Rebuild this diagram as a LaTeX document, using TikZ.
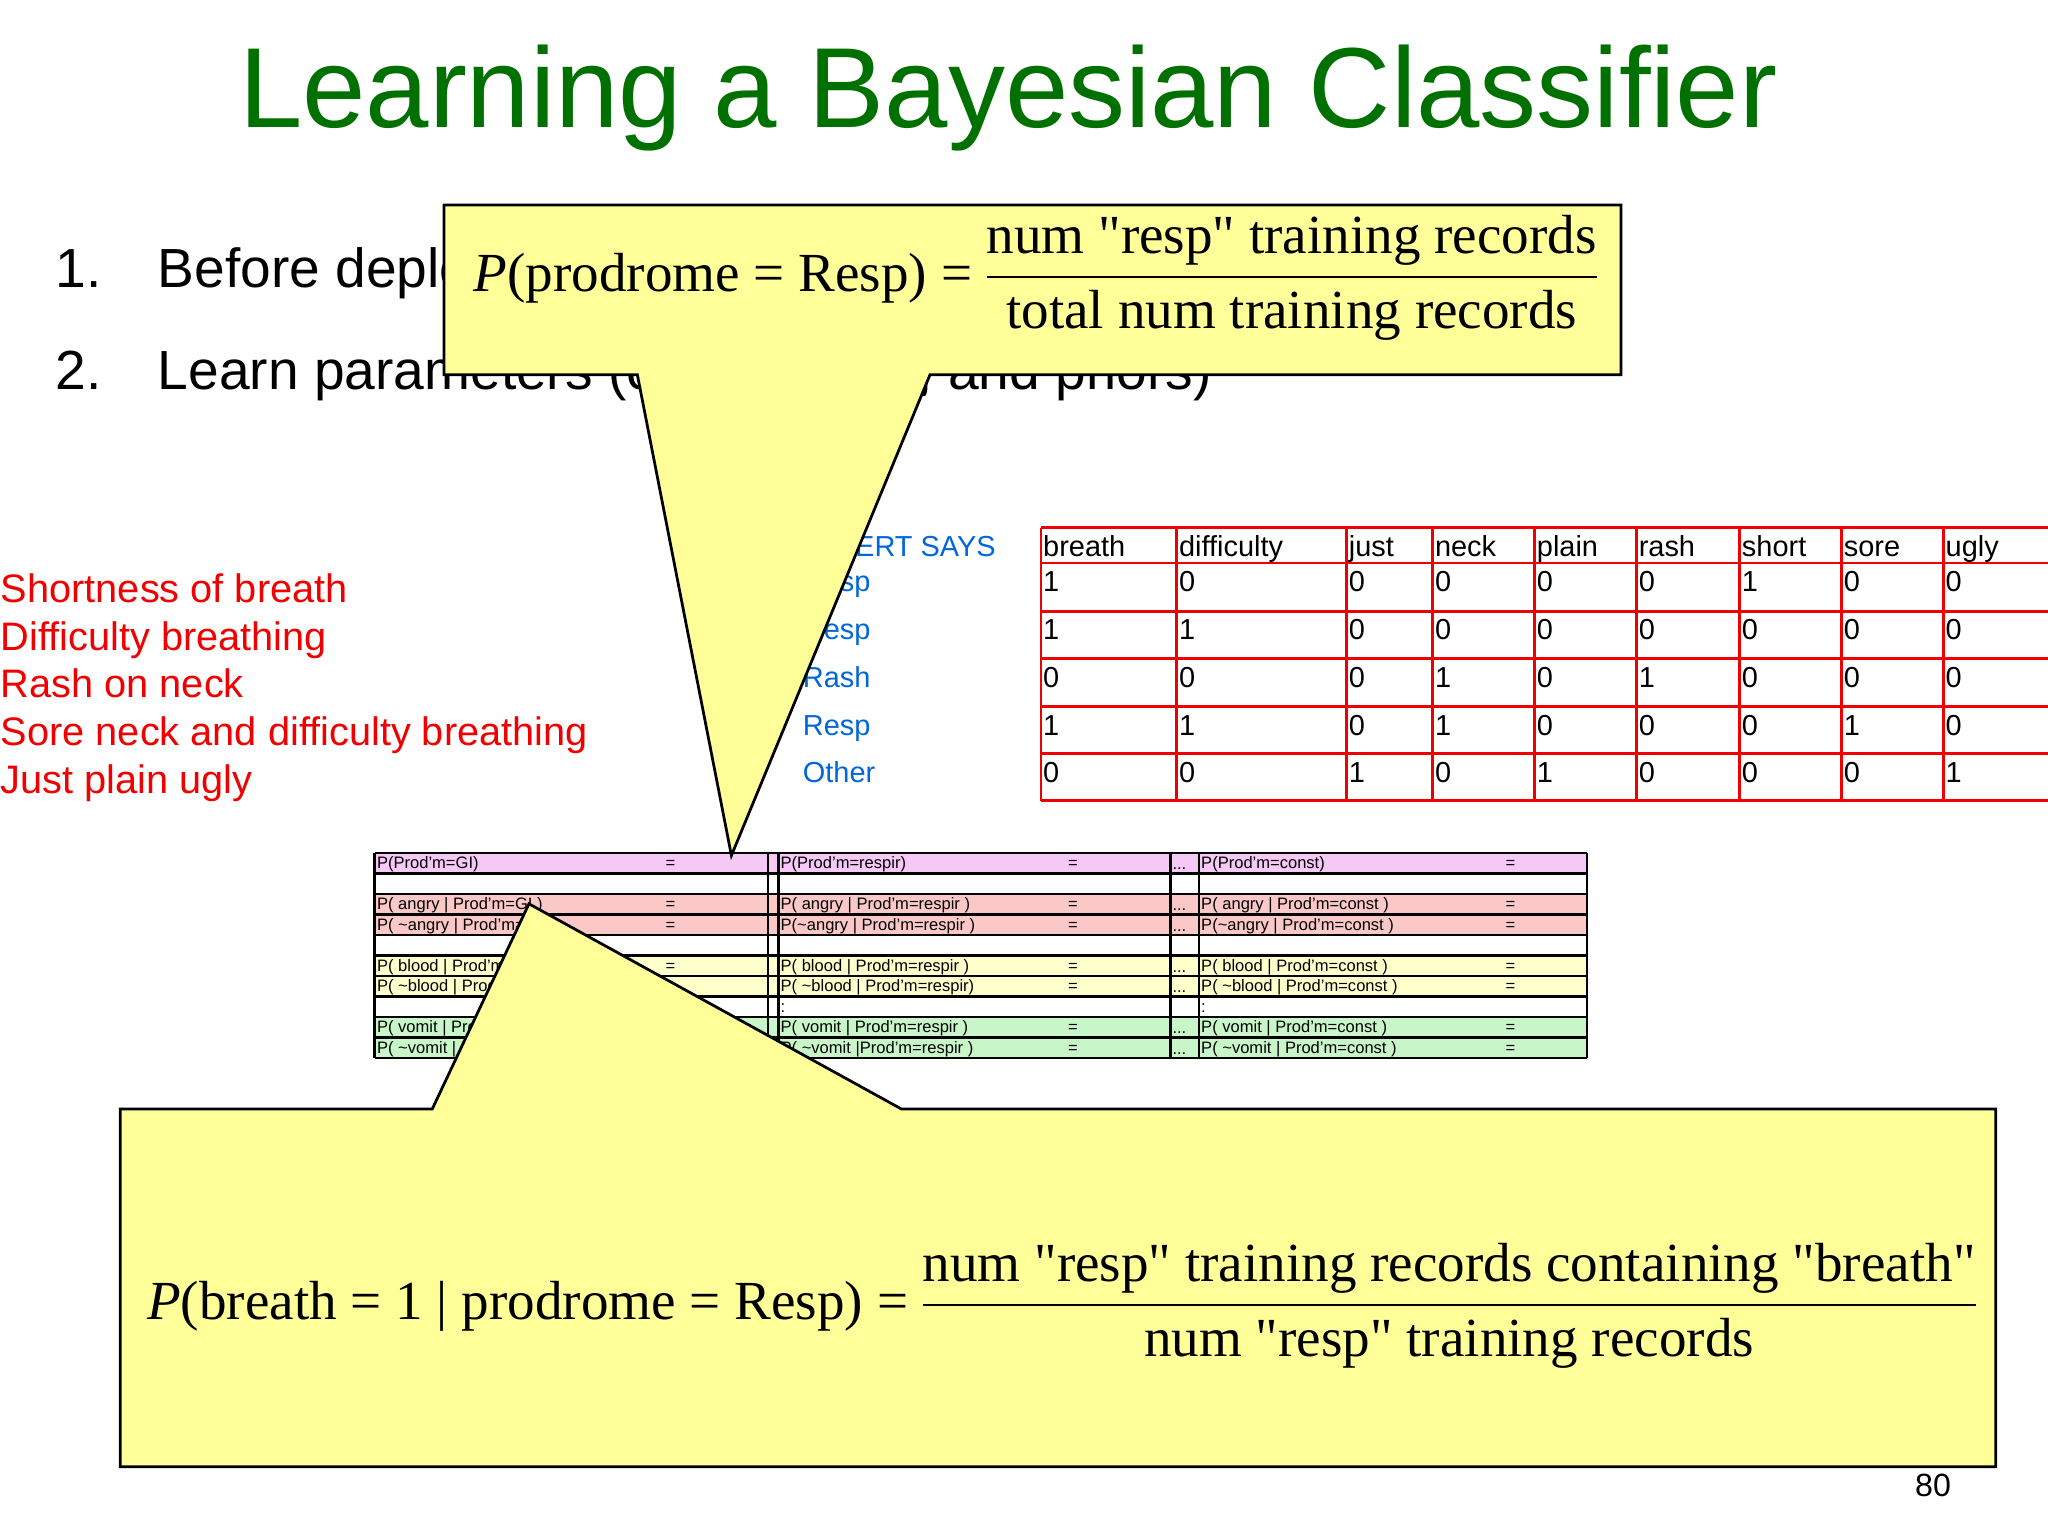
\documentclass[tikz,border=0pt]{standalone}
\usepackage{fontspec}
\setmainfont{Liberation Sans}
\setsansfont{Liberation Sans}
\newfontfamily\tnr{Liberation Serif}
\definecolor{titlegreen}{RGB}{0,112,0}
\definecolor{callout}{RGB}{255,255,153}
\definecolor{rowvio}{RGB}{246,200,246}
\definecolor{rowred}{RGB}{251,200,200}
\definecolor{rowyel}{RGB}{255,255,204}
\definecolor{rowgrn}{RGB}{200,246,200}
\definecolor{bluetxt}{RGB}{0,102,221}
\definecolor{redtxt}{RGB}{240,0,0}
\tikzset{
  sm/.style={anchor=base west,inner sep=0pt,font=\fontsize{3.6pt}{4pt}\selectfont},
  redlab/.style={anchor=base west,inner sep=0pt,text=redtxt,font=\fontsize{8.65pt}{10pt}\selectfont},
  bluelab/.style={anchor=base west,inner sep=0pt,text=bluetxt,font=\fontsize{6.3pt}{8pt}\selectfont},
  cell/.style={anchor=base west,inner sep=0pt,font=\fontsize{6.3pt}{8pt}\selectfont},
  callbox/.style={fill=callout,draw=black,line width=0.6pt,line join=miter},
  frm/.style={anchor=west,inner sep=0pt,font=\tnr\fontsize{12pt}{14pt}\selectfont}
}
\newcommand{\tx}[1]{\mbox{\tnr #1}}
\begin{document}
\begin{tikzpicture}[x=0.01cm,y=-0.01cm]
\useasboundingbox (0,0) rectangle (1568,1176);
% title
\node[text=titlegreen,font=\fontsize{24.8pt}{30pt}\selectfont,inner sep=0pt] (title) at (772,75) {Learning a Bayesian Classifier};
% list
\node[anchor=base west,inner sep=0pt,font=\fontsize{12pt}{14pt}\selectfont] (l1) at (42,220) {1.\hspace{0.43cm}Before deployment, decide the structure};
\node[anchor=base west,inner sep=0pt,font=\fontsize{12pt}{14pt}\selectfont] (l2) at (42,298) {2.\hspace{0.43cm}Learn parameters (conditionals, and priors)};
% red list
\foreach \t [count=\i] in {Shortness of breath,Difficulty breathing,Rash on neck,Sore neck and difficulty breathing,Just plain ugly}
  \node[redlab] (r\i) at (0,{461+36.7*(\i-1)}) {\t};
% blue
\node[bluelab,anchor=base east] (exp) at (763,426) {EXPERT SAYS};
\foreach \t [count=\i] in {Resp,Resp,Rash,Resp,Other}
  \node[bluelab] (b\i) at (614,{453+36.6*(\i-1)}) {\t};
% red table
\foreach \x in {797,901,1031,1097,1175,1253,1332,1410,1488}
  \draw[redtxt,line width=0.6pt] (\x,404) -- (\x,613);
\foreach \y in {404,431,468,504,541,577,613}
  \draw[redtxt,line width=0.6pt] (797,\y) -- (1568,\y);
\foreach \t/\x in {breath/797,difficulty/901,just/1031,neck/1097,plain/1175,rash/1253,short/1332,sore/1410,ugly/1488}
  \node[cell] at (\x+1,426) {\t};
\foreach \r/\vals [count=\i] in {453/{1,0,0,0,0,0,1,0,0},490/{1,1,0,0,0,0,0,0,0},526/{0,0,0,1,0,1,0,0,0},563/{1,1,0,1,0,0,0,1,0},599/{0,0,1,0,1,0,0,0,1}}{
  \foreach \v [count=\j] in \vals {
    \pgfmathsetmacro{\xx}{{797,901,1031,1097,1175,1253,1332,1410,1488}[\j-1]}
    \node[cell] at (\xx+1,\r) {\v};
  }
}
% small table
\foreach \c [count=\i from 0] in {rowvio,white,rowred,rowred,white,rowyel,rowyel,white,rowgrn,rowgrn}
  \fill[\c] (287,{653+15.7*\i}) rectangle (1215,{653+15.7*(\i+1)});
\foreach \i in {0,...,10}
  \draw[line width=0.6pt] (287,{653+15.7*\i}) -- (1215,{653+15.7*\i});
\foreach \x in {287,588,596,896,918,1215}
  \draw[line width=0.6pt] (\x,653) -- (\x,810);
\foreach \i/\a/\b/\c in {0/P(Prod'm=GI)/P(Prod'm=respir)/P(Prod'm=const),
  2/P( angry | Prod'm=GI )/P( angry | Prod'm=respir )/P( angry | Prod'm=const ),
  3/P( \textasciitilde angry | Prod'm=GI )/P(\textasciitilde angry | Prod'm=respir )/P(\textasciitilde angry | Prod'm=const ),
  5/P( blood | Prod'm=GI )/P( blood | Prod'm=respir )/P( blood | Prod'm=const ),
  6/P( \textasciitilde blood | Prod'm=GI )/P( \textasciitilde blood | Prod'm=respir)/P( \textasciitilde blood | Prod'm=const ),
  8/P( vomit | Prod'm=GI )/P( vomit | Prod'm=respir )/P( vomit | Prod'm=const ),
  9/P( \textasciitilde vomit | Prod'm=GI )/P( \textasciitilde vomit |Prod'm=respir )/P( \textasciitilde vomit | Prod'm=const )}{
  \node[sm] at (288,{665+15.7*\i}) {\a};
  \node[sm] at (597,{665+15.7*\i}) {\b};
  \node[sm] at (919,{665+15.7*\i}) {\c};
  \node[sm] at (509,{665+15.7*\i}) {=};
  \node[sm] at (817,{665+15.7*\i}) {=};
  \node[sm] at (1152,{665+15.7*\i}) {=};
  \node[sm] at (897,{666+15.7*\i}) {...};
}
\node[sm] at (597,{665+15.7*7}) {:};
\node[sm] at (919,{665+15.7*7}) {:};
% callout 1
\draw[callbox] (340,157) -- (1241,157) -- (1241,287) -- (712,287) -- (560,655) -- (488,287) -- (340,287) -- cycle;
\node[frm] (f1) at (362,213) {$\displaystyle\mbox{\tnr\itshape P}\tx{(prodrome = Resp) =\,}\frac{\tx{num "resp" training records}}{\tx{total num training records}}$};
% callout 2
\draw[callbox] (92,849) -- (331,849) -- (405,692) -- (690,849) -- (1528,849) -- (1528,1123) -- (92,1123) -- cycle;
\node[frm] (f2) at (112,1000) {$\displaystyle\mbox{\tnr\itshape P}\tx{(breath = 1 | prodrome = Resp) =\,}\frac{\tx{num "resp" training records containing "breath"}}{\tx{num "resp" training records}}$};
\node[inner sep=0pt,font=\fontsize{7pt}{8pt}\selectfont] (pg) at (1480,1137) {80};
\end{tikzpicture}
\end{document}
